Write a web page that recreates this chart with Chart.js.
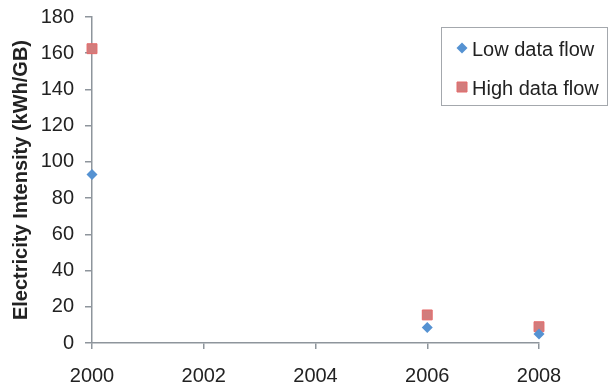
<!DOCTYPE html>
<html>
<head>
<meta charset="utf-8">
<script src="https://cdn.jsdelivr.net/npm/chart.js@4/dist/chart.umd.min.js"></script>
<style>
  html, body { margin: 0; padding: 0; background: #fff; }
  #wrap { position: relative; width: 609px; height: 385px; }
</style>
</head>
<body>
<div id="wrap"><canvas id="chart" width="609" height="385"></canvas></div>
<script>
// values
const years = [2000, 2006, 2008];
const lowFlow = [93, 8.5, 5];
const highFlow = [162.5, 15.5, 9];
const xTicks = [2000, 2002, 2004, 2006, 2008];
const yTicks = [0, 20, 40, 60, 80, 100, 120, 140, 160, 180];

const axisGrey = '#8e959c';
const fontFamily = '"Liberation Sans", Arial, Helvetica, sans-serif';

// legend box drawn inside the plot, top right
const insideLegend = {
  id: 'insideLegend',
  afterDraw(chart) {
    const ctx = chart.ctx;
    const x = 441, y = 27, w = 166, h = 78;
    ctx.save();
    ctx.strokeStyle = '#a4a8ad';
    ctx.lineWidth = 1;
    ctx.strokeRect(x + 0.5, y + 0.5, w, h);
    ctx.font = '20px ' + fontFamily;
    ctx.textBaseline = 'middle';
    chart.data.datasets.forEach((ds, i) => {
      const cy = y + 21 + i * 39;
      const mx = x + 21;
      ctx.fillStyle = ds.backgroundColor;
      ctx.strokeStyle = ds.borderColor;
      ctx.beginPath();
      if (ds.pointStyle === 'rectRot') {
        ctx.moveTo(mx, cy - 5.5);
        ctx.lineTo(mx + 5.5, cy);
        ctx.lineTo(mx, cy + 5.5);
        ctx.lineTo(mx - 5.5, cy);
        ctx.closePath();
        ctx.fill();
      } else {
        ctx.rect(mx - 5, cy - 5, 10, 10);
        ctx.fill();
        ctx.stroke();
      }
      ctx.fillStyle = '#222';
      ctx.fillText(ds.label, x + 31, cy + 2);
    });
    ctx.restore();
  }
};

new Chart(document.getElementById('chart').getContext('2d'), {
  type: 'scatter',
  data: {
    datasets: [
      {
        label: 'Low data flow',
        data: years.map((yr, i) => ({ x: yr, y: lowFlow[i] })),
        pointStyle: 'rectRot',
        pointRadius: 5.5,
        backgroundColor: '#5592d2',
        borderColor: '#5592d2',
        borderWidth: 0,
        clip: false
      },
      {
        label: 'High data flow',
        data: years.map((yr, i) => ({ x: yr, y: highFlow[i] })),
        pointStyle: 'rect',
        pointRadius: 7,
        backgroundColor: '#d27c7c',
        borderColor: '#e46a6a',
        borderWidth: 1,
        clip: false
      }
    ]
  },
  options: {
    responsive: false,
    animation: false,
    layout: { padding: { top: 17, right: 70, left: 0, bottom: 0 } },
    plugins: {
      legend: { display: false },
      tooltip: { enabled: false }
    },
    scales: {
      x: {
        type: 'linear',
        min: 2000,
        max: 2008,
        afterBuildTicks: axis => { axis.ticks = xTicks.map(v => ({ value: v })); },
        afterFit: axis => {
          axis.height = 42;
          axis.paddingLeft = 0;
          axis.paddingRight = 0;
        },
        ticks: {
          callback: v => String(v),
          font: { family: fontFamily, size: 20 },
          color: '#222',
          padding: 15,
          maxRotation: 0
        },
        grid: { drawOnChartArea: false, drawTicks: true, tickLength: 6, color: axisGrey, lineWidth: 1.5 },
        border: { color: axisGrey, width: 1.5 }
      },
      y: {
        min: 0,
        max: 180,
        afterBuildTicks: axis => { axis.ticks = yTicks.map(v => ({ value: v })); },
        afterFit: axis => {
          axis.width = 92;
          axis.paddingTop = 0;
          axis.paddingBottom = 0;
        },
        ticks: {
          font: { family: fontFamily, size: 20 },
          color: '#222',
          padding: 11
        },
        title: {
          display: true,
          text: 'Electricity Intensity (kWh/GB)',
          font: { family: fontFamily, size: 20, weight: 'bold' },
          color: '#222',
          padding: { top: 9, bottom: 0 }
        },
        grid: { drawOnChartArea: false, drawTicks: true, tickLength: 7, color: axisGrey, lineWidth: 1.5 },
        border: { color: axisGrey, width: 1.5 }
      }
    }
  },
  plugins: [insideLegend]
});
</script>
</body>
</html>
